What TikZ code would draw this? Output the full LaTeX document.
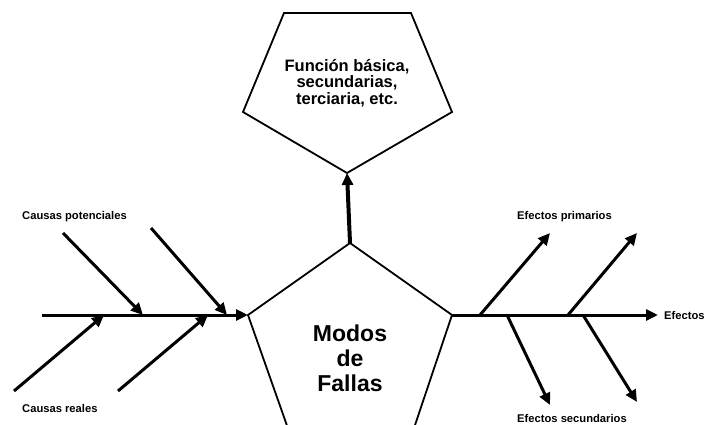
\documentclass[tikz,border=0pt]{standalone}
\usepackage{fontspec}
\setmainfont{Liberation Sans}
\usetikzlibrary{arrows.meta}

\begin{document}
\begin{tikzpicture}[x=1pt,y=-1pt,
		flecha/.style={black, line width=3pt, -{Triangle[length=12pt,width=11pt]}},
		borde/.style={black, line width=1.8pt, line join=miter},
		etiqueta/.style={inner sep=0pt, anchor=west, font=\bfseries\fontsize{11.2}{12}\selectfont}]
				\useasboundingbox (0,0) rectangle (706,425);
				\clip (0,0) rectangle (706,425);
				\coordinate (f1) at (284,13);
				\coordinate (f2) at (411,13);
				\coordinate (f3) at (452,112);
				\coordinate (f4) at (347,173);
				\coordinate (f5) at (243,112);
				\draw[borde] (f1) -- (f2) -- (f3) -- (f4) -- (f5) -- cycle;
				\coordinate (m1) at (350,243);
				\coordinate (m2) at (452,315);
				\coordinate (m3) at (411,437);
				\coordinate (m4) at (291,437);
				\coordinate (m5) at (248,315);
				\draw[borde] (m1) -- (m2) -- (m3) -- (m4) -- (m5) -- cycle;
				\node[font=\bfseries\fontsize{16.5}{16.5}\selectfont, align=center] (fun) at (347,83) {Función básica,\\secundarias,\\terciaria, etc.};
				\node[font=\bfseries\fontsize{23}{25}\selectfont, align=center] (modos) at (350,358) {Modos\\de\\Fallas};
				\draw[black, line width=4pt, -{Triangle[length=12pt,width=11pt]}] (m1) -- (f4);
				\coordinate (ci) at (42,315);
				\draw[flecha] (ci) -- (m5);
				\coordinate (p1) at (63,233);
				\coordinate (p1e) at (143,315);
				\coordinate (p2) at (151,228);
				\coordinate (p2e) at (227,315);
				\coordinate (r1) at (14,391);
				\coordinate (r1e) at (104,315);
				\coordinate (r2) at (118,391);
				\coordinate (r2e) at (208,315);
				\draw[flecha] (p1) -- (p1e);
				\draw[flecha] (p2) -- (p2e);
				\draw[flecha] (r1) -- (r1e);
				\draw[flecha] (r2) -- (r2e);
				\coordinate (ef) at (658,315);
				\draw[flecha] (m2) -- (ef);
				\coordinate (e1) at (480,315);
				\coordinate (e1e) at (550,233);
				\coordinate (e2) at (568,315);
				\coordinate (e2e) at (637,233);
				\coordinate (s1) at (507,315);
				\coordinate (s1e) at (550,405);
				\coordinate (s2) at (583,315);
				\coordinate (s2e) at (637,402);
				\draw[flecha] (e1) -- (e1e);
				\draw[flecha] (e2) -- (e2e);
				\draw[flecha] (s1) -- (s1e);
				\draw[flecha] (s2) -- (s2e);
				\node[etiqueta] (pot) at (22,217) {Causas potenciales};
				\node[etiqueta] (rea) at (22,408) {Causas reales};
				\node[etiqueta] (pri) at (517,217) {Efectos primarios};
				\node[etiqueta] (efe) at (664,315) {Efectos};
				\node[etiqueta] (sec) at (517,418) {Efectos secundarios};
			\end{tikzpicture}
\end{document}
